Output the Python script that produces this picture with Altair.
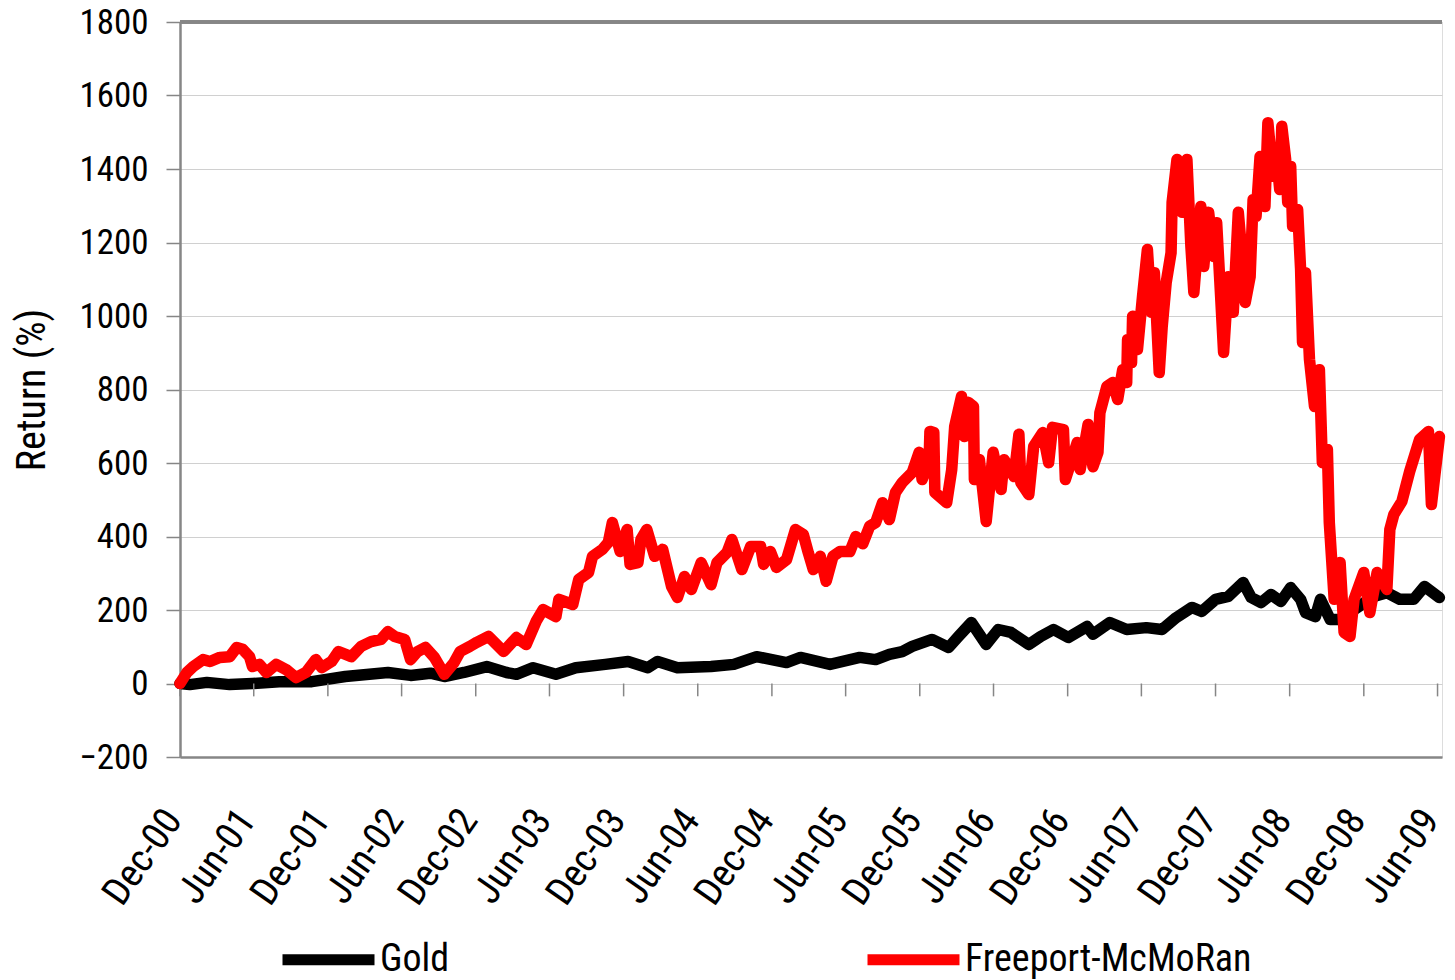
import altair as alt
import pandas as pd

FONT = "Liberation Sans Narrow, Roboto Condensed, DejaVu Sans Condensed, Arial Narrow, sans-serif"

# time in decimal years, return in %
fcx_t = [2000.917, 2000.964, 2001.004, 2001.071, 2001.118, 2001.184, 2001.251, 2001.298, 2001.338, 2001.385,
         2001.405, 2001.452, 2001.499, 2001.565, 2001.632, 2001.699, 2001.766, 2001.833, 2001.873, 2001.940,
         2001.986, 2002.073, 2002.140, 2002.207, 2002.274, 2002.321, 2002.367, 2002.434, 2002.474, 2002.521,
         2002.575, 2002.635, 2002.702, 2002.768, 2002.809, 2002.875, 2002.922, 2003.002, 2003.056, 2003.103,
         2003.190, 2003.256, 2003.323, 2003.370, 2003.457, 2003.477, 2003.571, 2003.611, 2003.677, 2003.704,
         2003.771, 2003.811, 2003.838, 2003.891, 2003.938, 2003.958, 2004.012, 2004.032, 2004.072, 2004.125,
         2004.179, 2004.239, 2004.279, 2004.326, 2004.373, 2004.439, 2004.506, 2004.546, 2004.613, 2004.647,
         2004.714, 2004.774, 2004.841, 2004.861, 2004.907, 2004.948, 2005.014, 2005.074, 2005.128, 2005.161,
         2005.195, 2005.242, 2005.282, 2005.328, 2005.375, 2005.442, 2005.482, 2005.529, 2005.576, 2005.616,
         2005.663, 2005.709, 2005.750, 2005.796, 2005.863, 2005.910, 2005.930, 2005.977, 2005.983, 2006.010,
         2006.017, 2006.097, 2006.131, 2006.151, 2006.197, 2006.217, 2006.244, 2006.278, 2006.284, 2006.318,
         2006.364, 2006.411, 2006.465, 2006.485, 2006.552, 2006.585, 2006.598, 2006.652, 2006.685, 2006.746,
         2006.786, 2006.812, 2006.886, 2006.899, 2006.979, 2006.999, 2007.053, 2007.086, 2007.120, 2007.133,
         2007.180, 2007.220, 2007.253, 2007.287, 2007.314, 2007.320, 2007.347, 2007.354, 2007.387, 2007.421,
         2007.454, 2007.481, 2007.501, 2007.534, 2007.554, 2007.581, 2007.614, 2007.621, 2007.654, 2007.688,
         2007.721, 2007.748, 2007.768, 2007.815, 2007.835, 2007.868, 2007.902, 2007.922, 2007.949, 2007.969,
         2008.002, 2008.035, 2008.069, 2008.102, 2008.116, 2008.149, 2008.169, 2008.189, 2008.216, 2008.249,
         2008.269, 2008.303, 2008.323, 2008.349, 2008.363, 2008.389, 2008.403, 2008.423, 2008.436, 2008.470,
         2008.490, 2008.503, 2008.523, 2008.550, 2008.584, 2008.617, 2008.637, 2008.671, 2008.684, 2008.717,
         2008.757, 2008.784, 2008.824, 2008.851, 2008.917, 2008.958, 2009.005, 2009.071, 2009.091, 2009.118,
         2009.172, 2009.225, 2009.292, 2009.352, 2009.372, 2009.426]
fcx_v = [0, 30, 46, 65, 60, 71, 73, 98, 93, 73,
         46, 52, 30, 52, 38, 16, 30, 65, 43, 60,
         87, 73, 101, 114, 120, 141, 128, 120, 65, 87,
         98, 71, 25, 57, 87, 101, 112, 128, 106, 87,
         125, 106, 169, 201, 182, 229, 215, 283, 302, 346,
         365, 384, 438, 359, 419, 324, 329, 392, 419, 346,
         365, 264, 234, 291, 256, 329, 269, 329, 356, 392,
         310, 373, 373, 324, 359, 316, 337, 419, 405, 356,
         310, 346, 278, 346, 359, 359, 400, 380, 428, 438,
         492, 446, 520, 547, 574, 629, 555, 601, 686, 683,
         520, 492, 582, 699, 781, 672, 765, 754, 555, 609,
         441, 629, 528, 609, 563, 678, 547, 514, 645, 683,
         601, 697, 691, 555, 656, 582, 705, 590, 629, 737,
         808, 819, 773, 854, 819, 936, 873, 999, 909, 1053,
         1181, 1010, 1118, 846, 971, 1091, 1172, 1309, 1426, 1282,
         1426, 1189, 1064, 1298, 1135, 1282, 1162, 1254, 1053, 901,
         1107, 1010, 1282, 1127, 1037, 1107, 1317, 1271, 1434, 1298,
         1526, 1380, 1453, 1344, 1516, 1426, 1309, 1407, 1244, 1290,
         1127, 928, 1118, 882, 754, 854, 601, 637, 438, 229,
         329, 139, 128, 229, 302, 193, 302, 256, 419, 460,
         495, 577, 664, 686, 487, 672]

gold_t = [2000.917, 2000.984, 2001.097, 2001.251, 2001.405, 2001.585, 2001.806, 2002.033, 2002.321, 2002.474,
          2002.608, 2002.702, 2002.835, 2002.989, 2003.123, 2003.190, 2003.303, 2003.457, 2003.591, 2003.791,
          2003.945, 2004.079, 2004.145, 2004.279, 2004.506, 2004.660, 2004.814, 2005.014, 2005.108, 2005.308,
          2005.509, 2005.616, 2005.709, 2005.796, 2005.863, 2005.997, 2006.110, 2006.177, 2006.264, 2006.364,
          2006.445, 2006.531, 2006.652, 2006.732, 2006.819, 2006.919, 2007.046, 2007.086, 2007.200, 2007.314,
          2007.447, 2007.554, 2007.648, 2007.755, 2007.821, 2007.915, 2008.002, 2008.102, 2008.156, 2008.223,
          2008.290, 2008.357, 2008.423, 2008.490, 2008.523, 2008.590, 2008.624, 2008.690, 2008.784, 2008.851,
          2008.985, 2009.071, 2009.158, 2009.252, 2009.325, 2009.426]
gold_v = [0, -3, 3, -3, 0, 5, 5, 19, 30, 22,
          28, 19, 30, 46, 30, 25, 43, 25, 43, 52,
          60, 43, 60, 43, 46, 52, 73, 57, 71, 52,
          71, 65, 79, 87, 101, 120, 98, 128, 166, 106,
          147, 139, 106, 128, 147, 125, 155, 134, 166, 147,
          152, 147, 179, 207, 196, 229, 237, 275, 234, 220,
          242, 223, 261, 229, 193, 182, 229, 174, 174, 201,
          237, 247, 229, 229, 264, 234]

tick_dates = ["2000-12-01", "2001-06-01", "2001-12-01", "2002-06-01", "2002-12-01", "2003-06-01",
              "2003-12-01", "2004-06-01", "2004-12-01", "2005-06-01", "2005-12-01", "2006-06-01",
              "2006-12-01", "2007-06-01", "2007-12-01", "2008-06-01", "2008-12-01", "2009-06-01"]
y_ticks = [-200, 0, 200, 400, 600, 800, 1000, 1200, 1400, 1600, 1800]
series_names = ["Gold", "Freeport-McMoRan"]
series_colors = ["#000000", "#ff0000"]


def to_date(t):
    y = int(t)
    return pd.Timestamp(f"{y}-01-01") + pd.Timedelta(days=(t - y) * 365.25)


gold_df = pd.DataFrame({"date": [to_date(t) for t in gold_t], "ret": gold_v, "series": "Gold"})
fcx_df = pd.DataFrame({"date": [to_date(t) for t in fcx_t], "ret": fcx_v, "series": "Freeport-McMoRan"})
ticks_df = pd.DataFrame({"date": pd.to_datetime(tick_dates)})

xscale = alt.Scale(domain=["2000-12-01", "2009-06-12"])
yscale = alt.Scale(domain=[-200, 1800], nice=False)
cscale = alt.Scale(domain=series_names, range=series_colors)

x_enc = alt.X("date:T", scale=xscale, title=None,
              axis=alt.Axis(values=tick_dates, format="%b-%y", labelAngle=305, labelFont=FONT,
                            labelFontSize=39, labelColor="#000000", labelPadding=56, labelOffset=-7,
                            ticks=False, grid=False, domainColor="#868686", domainWidth=2.5,
                            labelOverlap=False, labelFlush=False, labelBound=False))
y_enc = alt.Y("ret:Q", scale=yscale, title="Return (%)",
              axis=alt.Axis(values=y_ticks, format="d", labelFont=FONT, labelFontSize=35,
                            labelColor="#000000",
                            labelPadding=18, tickSize=14, tickColor="#868686", tickWidth=1.5,
                            domainColor="#868686", domainWidth=2.5, gridColor="#d0d0d0", gridWidth=1,
                            titleFont=FONT, titleFontSize=40, titleFontWeight="normal", titleColor="#000000",
                            titleX=-148, titleBaseline="middle", labelOverlap=False))

legend = alt.Legend(title=None, orient="none", legendX=97, legendY=886, direction="horizontal",
                    columns=2, columnPadding=395, symbolType="stroke", symbolSize=8464,
                    symbolStrokeWidth=11, labelFont=FONT, labelFontSize=38, labelColor="#000000",
                    labelOffset=0, padding=0, labelLimit=400)

color_enc = alt.Color("series:N", scale=cscale, legend=legend)

gold_line = alt.Chart(gold_df).mark_line(strokeWidth=11.5, strokeCap="round", strokeJoin="round").encode(
    x=x_enc, y=y_enc, color=color_enc)
fcx_line = alt.Chart(fcx_df).mark_line(strokeWidth=11.5, strokeCap="round", strokeJoin="round").encode(
    x="date:T", y="ret:Q", color=color_enc)

xticks = alt.Chart(ticks_df).mark_rule(color="#868686", strokeWidth=1.5).encode(
    x="date:T", y=alt.datum(0), y2=alt.datum(-35))
top_border = alt.Chart(ticks_df).mark_rule(color="#868686", strokeWidth=2.5).encode(
    y=alt.datum(1800))

chart = alt.layer(gold_line, xticks, top_border, fcx_line).properties(
    width=1262, height=735,
    autosize=alt.AutoSizeParams(type="none"),
    padding={"left": 172, "top": 14, "right": 5, "bottom": 222},
).configure_view(stroke=None).configure(background="white")

chart.save("out.html", embed_options={"renderer": "svg", "actions": False})
